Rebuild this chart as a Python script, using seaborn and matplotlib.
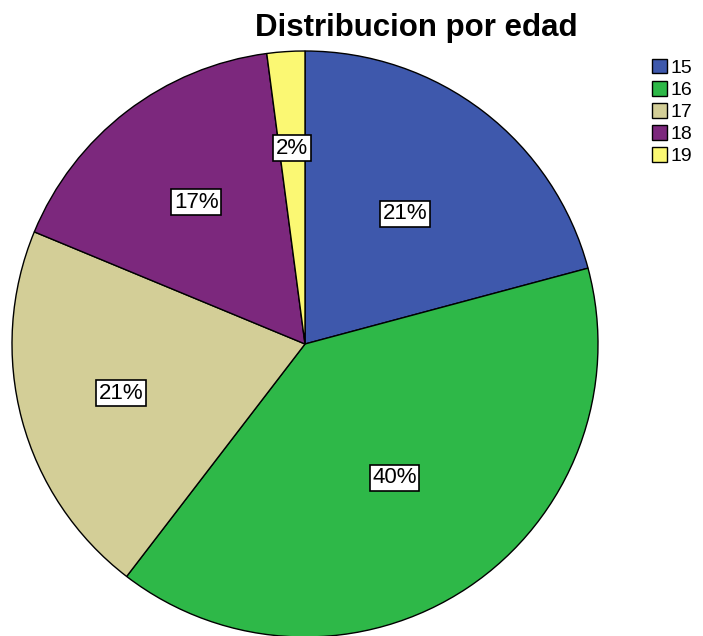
import numpy as np
import seaborn as sns
import matplotlib.pyplot as plt

# Data: counts by age
edades = ["15", "16", "17", "18", "19"]
conteos = [10, 19, 10, 8, 1]
colores = ["#3E58AC", "#2EB848", "#D3CE97", "#7C287D", "#FBF873"]

sns.set_theme(style="white")
plt.rcParams["font.family"] = ["Liberation Sans", "DejaVu Sans"]
plt.rcParams["text.color"] = "black"

fig = plt.figure(figsize=(7.03, 6.36), dpi=100)
r_px = 293
cx, cy = 305, 636 - 344
ax = fig.add_axes([(cx - r_px) / 703, (cy - r_px) / 636, 2 * r_px / 703, 2 * r_px / 636])

palette = sns.color_palette(colores)

wedges, texts, autotexts = ax.pie(
    conteos,
    colors=palette,
    startangle=90,
    counterclock=False,
    autopct=lambda p: f"{p:.0f}%",
    pctdistance=0.6,
    wedgeprops={"edgecolor": "black", "linewidth": 1.0},
    textprops={"fontsize": 16, "color": "black"},
)

# nudge labels radially (SPSS places them unevenly)
dist = [0.56, 0.55, 0.65, 0.61, 0.67]
for t, d in zip(autotexts, dist):
    x, y = t.get_position()
    s = d / 0.6
    t.set_position((x * s, y * s))
    t.set_bbox(dict(boxstyle="square,pad=0.12", facecolor="white", edgecolor="black", linewidth=1.2))

ax.set_xlim(-1, 1)
ax.set_ylim(-1, 1)
ax.set_aspect("equal")
ax.axis("off")

fig.text(416 / 703, 1 - 28 / 636, "Distribucion por edad", ha="center", va="center",
         fontsize=22.5, fontweight="bold", color="black")

fig.legend(
    wedges, edades,
    loc="upper left",
    bbox_to_anchor=(638 / 703, 1 - 45 / 636),
    frameon=False,
    fontsize=14,
    handlelength=0.8,
    handleheight=0.8,
    handletextpad=0.15,
    labelspacing=0.2,
    borderpad=0.2,
)

plt.savefig("out.png", dpi=100)
